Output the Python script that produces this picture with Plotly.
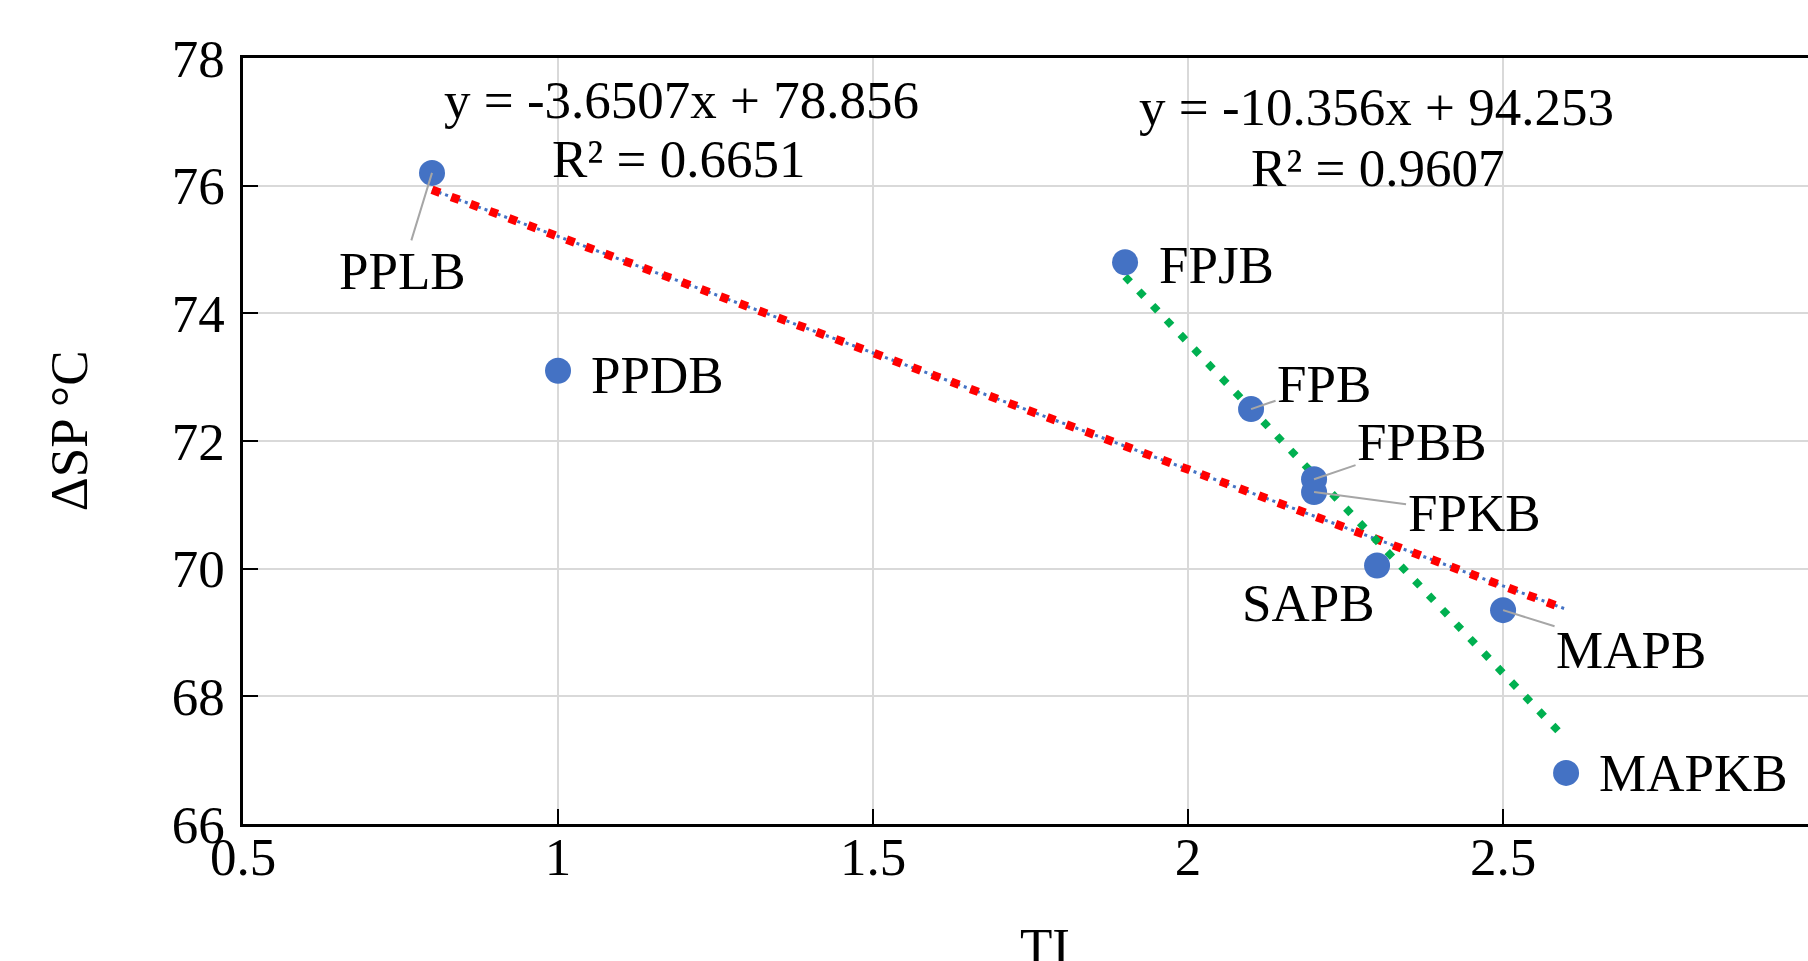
import plotly.graph_objects as go

# ---- data ----
labels = ["PPLB", "PPDB", "FPJB", "FPB", "FPBB", "FPKB", "SAPB", "MAPB", "MAPKB"]
ti = [0.8, 1.0, 1.9, 2.1, 2.2, 2.2, 2.3, 2.5, 2.6]
dsp = [76.2, 73.1, 74.8, 72.5, 71.4, 71.2, 70.05, 69.35, 66.8]

# trendline 1: all samples ; trendline 2: FP / SA / MA samples
fit_all = {"slope": -3.6507, "intercept": 78.856, "r2": 0.6651}
fit_sub = {"slope": -10.356, "intercept": 94.253, "r2": 0.9607}
sub_labels = ["FPJB", "FPB", "FPBB", "FPKB", "SAPB", "MAPB", "MAPKB"]

x_ticks = [0.5, 1, 1.5, 2, 2.5]
y_ticks = [66, 68, 70, 72, 74, 76, 78]

FONT = "Liberation Serif, Times New Roman, serif"
FS = 53

fig = go.Figure()

# trendline over all points
xa = [min(ti), max(ti)]
ya = [fit_all["slope"] * v + fit_all["intercept"] for v in xa]
fig.add_trace(go.Scatter(x=xa, y=ya, mode="lines",
                         line=dict(color="#4472C4", width=3, dash="3px,4px"),
                         hoverinfo="skip", showlegend=False))
fig.add_trace(go.Scatter(x=xa, y=ya, mode="lines",
                         line=dict(color="#FF0000", width=8.5, dash="8.5px,12px"),
                         hoverinfo="skip", showlegend=False))

# trendline over the subset
sx = [ti[labels.index(l)] for l in sub_labels]
xs = [min(sx), max(sx)]
ys = [fit_sub["slope"] * v + fit_sub["intercept"] for v in xs]
fig.add_trace(go.Scatter(x=xs, y=ys, mode="lines",
                         line=dict(color="#00B050", width=7.5, dash="7.5px,12.5px"),
                         hoverinfo="skip", showlegend=False))

# points
fig.add_trace(go.Scatter(x=ti, y=dsp, mode="markers",
                         marker=dict(color="#4472C4", size=26),
                         showlegend=False))

# point labels: offsets in pixels
label_pos = {
    "PPLB": dict(ax=-30, ay=98, arrow=True),
    "PPDB": dict(xshift=31, yshift=-4, arrow=False, anchor="left"),
    "FPJB": dict(xshift=32, yshift=-3, arrow=False, anchor="left"),
    "FPB": dict(ax=73, ay=-25, arrow=True),
    "FPBB": dict(ax=108, ay=-37, arrow=True),
    "FPKB": dict(ax=160, ay=21, arrow=True),
    "SAPB": dict(xshift=-69, yshift=-38, arrow=False, anchor="center"),
    "MAPB": dict(ax=128, ay=40, arrow=True),
    "MAPKB": dict(xshift=31, yshift=0, arrow=False, anchor="left"),
}
for lab, xv, yv in zip(labels, ti, dsp):
    p = label_pos[lab]
    if p["arrow"]:
        fig.add_annotation(x=xv, y=yv, text=lab, showarrow=True,
                           ax=p["ax"], ay=p["ay"], arrowhead=0, arrowwidth=2,
                           arrowcolor="#A6A6A6", standoff=0,
                           font=dict(family=FONT, size=FS, color="black"))
    else:
        fig.add_annotation(x=xv, y=yv, text=lab, showarrow=False,
                           xanchor=p["anchor"], yanchor="middle",
                           xshift=p["xshift"], yshift=p["yshift"],
                           font=dict(family=FONT, size=FS, color="black"))

# equations
def eq_text(f):
    return f"y = {f['slope']}x + {f['intercept']}"

for f, (x1, y1, x2, y2) in [(fit_all, (0.280, 0.945, 0.278, 0.868)),
                            (fit_sub, (0.724, 0.936, 0.725, 0.856))]:
    fig.add_annotation(xref="paper", yref="paper", x=x1, y=y1, text=eq_text(f),
                       xanchor="center", yanchor="middle", showarrow=False,
                       font=dict(family=FONT, size=FS, color="black"))
    fig.add_annotation(xref="paper", yref="paper", x=x2, y=y2, text=f"R² = {f['r2']}",
                       xanchor="center", yanchor="middle", showarrow=False,
                       font=dict(family=FONT, size=FS, color="black"))

# axis titles
fig.add_annotation(xref="paper", yref="paper", x=0.5125, y=-0.12,
                   xanchor="center", yanchor="top",
                   text="TI", showarrow=False,
                   font=dict(family=FONT, size=FS, color="black"))
fig.add_annotation(xref="paper", yref="paper", x=-0.111, y=0.513, textangle=-90,
                   xanchor="center", yanchor="middle",
                   text="ΔSP °C", showarrow=False,
                   font=dict(family=FONT, size=FS, color="black"))

fig.update_xaxes(range=[0.5, 2.984], tickvals=x_ticks,
                 showgrid=True, gridcolor="#D9D9D9", gridwidth=2,
                 showline=True, linecolor="black", linewidth=2.5, mirror=True,
                 ticks="inside", ticklen=15, tickwidth=2, tickcolor="black",
                 ticklabelstandoff=-15,
                 tickfont=dict(family=FONT, size=FS, color="black"),
                 zeroline=False, automargin=False)
fig.update_yaxes(range=[66, 78], tickvals=y_ticks,
                 showgrid=True, gridcolor="#D9D9D9", gridwidth=2,
                 showline=True, linecolor="black", linewidth=2.5, mirror=False,
                 ticks="inside", ticklen=15, tickwidth=2, tickcolor="black",
                 ticklabelstandoff=5,
                 tickfont=dict(family=FONT, size=FS, color="black"),
                 zeroline=False, automargin=False)

fig.update_layout(width=1808, height=961,
                  margin=dict(l=243, r=0, t=58, b=137),
                  plot_bgcolor="white", paper_bgcolor="white",
                  showlegend=False)

fig.write_html("out.html", config={"displayModeBar": False},
               post_script="document.body.style.margin='0';document.body.style.overflow='hidden';")
